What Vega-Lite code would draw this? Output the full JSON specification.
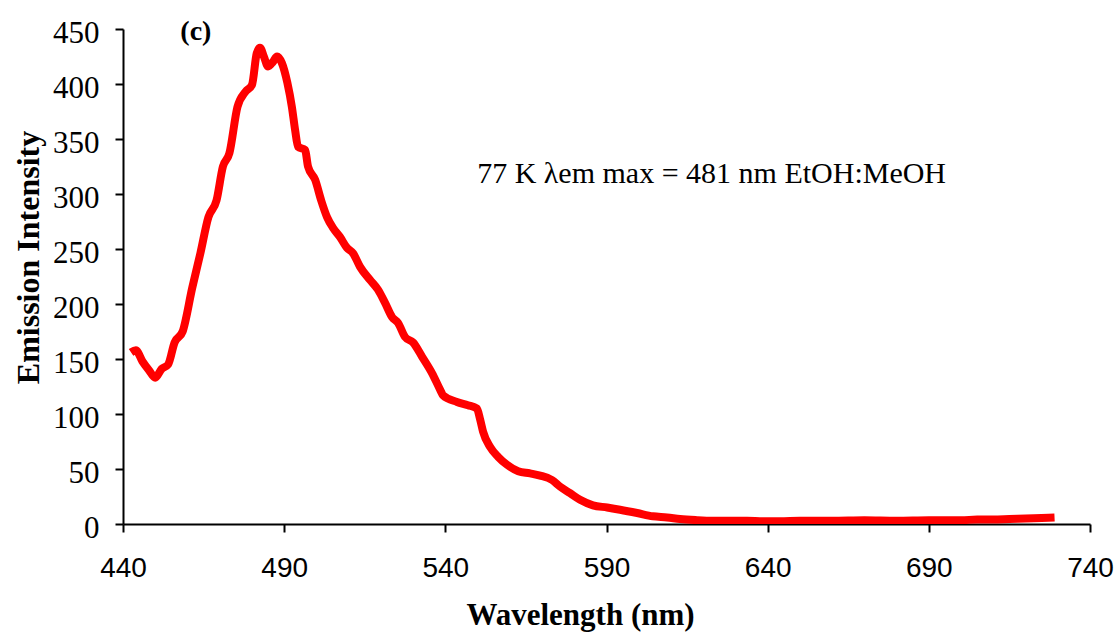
{
  "$schema": "https://vega.github.io/schema/vega-lite/v6.json",
  "autosize": {"type": "none"},
  "padding": {"left": 123, "top": 29, "right": 29, "bottom": 110},
  "width": 967,
  "height": 495,
  "background": "white",
  "config": {
    "view": {"stroke": null},
    "axis": {
      "grid": false,
      "domainColor": "black",
      "domainWidth": 2,
      "tickColor": "black",
      "tickWidth": 2,
      "tickSize": 8,
      "labelColor": "black",
      "titleColor": "black"
    }
  },
  "datasets": {
    "spectrum": [
      {"wavelength": 442.5, "intensity": 156},
      {"wavelength": 444, "intensity": 158},
      {"wavelength": 446, "intensity": 148},
      {"wavelength": 448, "intensity": 140},
      {"wavelength": 450, "intensity": 133},
      {"wavelength": 452, "intensity": 141},
      {"wavelength": 454, "intensity": 145},
      {"wavelength": 456, "intensity": 165},
      {"wavelength": 458.5, "intensity": 175},
      {"wavelength": 461.5, "intensity": 215},
      {"wavelength": 464, "intensity": 246},
      {"wavelength": 466.5, "intensity": 279},
      {"wavelength": 469, "intensity": 294},
      {"wavelength": 471, "intensity": 325},
      {"wavelength": 473, "intensity": 337},
      {"wavelength": 475.5, "intensity": 379},
      {"wavelength": 478, "intensity": 393},
      {"wavelength": 480, "intensity": 399},
      {"wavelength": 481.5, "intensity": 428},
      {"wavelength": 482.5, "intensity": 433},
      {"wavelength": 483.7, "intensity": 425},
      {"wavelength": 485, "intensity": 416},
      {"wavelength": 486.5, "intensity": 420},
      {"wavelength": 487.8, "intensity": 425},
      {"wavelength": 489.3, "intensity": 419},
      {"wavelength": 491, "intensity": 401},
      {"wavelength": 492.4, "intensity": 379},
      {"wavelength": 493.4, "intensity": 358},
      {"wavelength": 494.3, "intensity": 343},
      {"wavelength": 496.5, "intensity": 340},
      {"wavelength": 497.4, "intensity": 325},
      {"wavelength": 499.6, "intensity": 313},
      {"wavelength": 501.5, "intensity": 294},
      {"wavelength": 503.3, "intensity": 279},
      {"wavelength": 505.2, "intensity": 269},
      {"wavelength": 507.3, "intensity": 261},
      {"wavelength": 509.5, "intensity": 251},
      {"wavelength": 511.4, "intensity": 246},
      {"wavelength": 513.5, "intensity": 234},
      {"wavelength": 516.6, "intensity": 222},
      {"wavelength": 519.1, "intensity": 213},
      {"wavelength": 521.3, "intensity": 201},
      {"wavelength": 523.5, "intensity": 188},
      {"wavelength": 525.3, "intensity": 183},
      {"wavelength": 527.5, "intensity": 170},
      {"wavelength": 530, "intensity": 165},
      {"wavelength": 532.8, "intensity": 152},
      {"wavelength": 535.9, "intensity": 137},
      {"wavelength": 538.4, "intensity": 122},
      {"wavelength": 539.3, "intensity": 117},
      {"wavelength": 543.6, "intensity": 111},
      {"wavelength": 547, "intensity": 108},
      {"wavelength": 549.8, "intensity": 105},
      {"wavelength": 550.8, "intensity": 95},
      {"wavelength": 551.7, "intensity": 84},
      {"wavelength": 553.9, "intensity": 70},
      {"wavelength": 556.4, "intensity": 61},
      {"wavelength": 559.1, "intensity": 54},
      {"wavelength": 562.6, "intensity": 48},
      {"wavelength": 566.3, "intensity": 46},
      {"wavelength": 569.4, "intensity": 44},
      {"wavelength": 573.1, "intensity": 40},
      {"wavelength": 575.6, "intensity": 34},
      {"wavelength": 578.7, "intensity": 28},
      {"wavelength": 581.8, "intensity": 22},
      {"wavelength": 585.8, "intensity": 17},
      {"wavelength": 590.2, "intensity": 15},
      {"wavelength": 594.2, "intensity": 13},
      {"wavelength": 599.5, "intensity": 10},
      {"wavelength": 604.4, "intensity": 7},
      {"wavelength": 608.8, "intensity": 6},
      {"wavelength": 612.8, "intensity": 4.5},
      {"wavelength": 618, "intensity": 3.5},
      {"wavelength": 623, "intensity": 3},
      {"wavelength": 628, "intensity": 3},
      {"wavelength": 633.6, "intensity": 3},
      {"wavelength": 638.6, "intensity": 2.5},
      {"wavelength": 643.8, "intensity": 2.5},
      {"wavelength": 650, "intensity": 3},
      {"wavelength": 660, "intensity": 3},
      {"wavelength": 670, "intensity": 3.5},
      {"wavelength": 680, "intensity": 3},
      {"wavelength": 690, "intensity": 3.5},
      {"wavelength": 700, "intensity": 3.5},
      {"wavelength": 705, "intensity": 4},
      {"wavelength": 710, "intensity": 4},
      {"wavelength": 715, "intensity": 4.5},
      {"wavelength": 720, "intensity": 5},
      {"wavelength": 725, "intensity": 5.5},
      {"wavelength": 729, "intensity": 6}
    ],
    "panel": [
      {"wavelength": 462.6, "intensity": 440, "label": "(c)"}
    ],
    "note": [
      {"wavelength": 622.6, "intensity": 310, "label": "77 K λem max = 481 nm EtOH:MeOH"}
    ]
  },
  "layer": [
    {
      "data": {"name": "spectrum"},
      "mark": {"type": "line", "color": "#ff0000", "strokeWidth": 8, "strokeJoin": "round", "strokeCap": "butt", "interpolate": "monotone", "clip": true},
      "encoding": {
        "x": {
          "field": "wavelength",
          "type": "quantitative",
          "scale": {"domain": [440, 740], "nice": false, "zero": false},
          "axis": {
            "values": [440, 490, 540, 590, 640, 690, 740],
            "title": "Wavelength (nm)",
            "titleFont": "Liberation Serif",
            "titleFontSize": 31,
            "titleFontWeight": "bold",
            "titleX": 457,
            "titleY": 100,
            "titleAlign": "center",
            "titleBaseline": "alphabetic",
            "labelFont": "Liberation Sans",
            "labelFontSize": 28,
            "labelPadding": 22,
            "labelFlush": false
          }
        },
        "y": {
          "field": "intensity",
          "type": "quantitative",
          "scale": {"domain": [0, 450], "nice": false},
          "axis": {
            "values": [0, 50, 100, 150, 200, 250, 300, 350, 400, 450],
            "title": "Emission Intensity",
            "titleFont": "Liberation Serif",
            "titleFontSize": 32,
            "titleFontWeight": "bold",
            "titleAngle": -90,
            "titleX": -85,
            "titleY": 228,
            "titleAlign": "center",
            "titleBaseline": "alphabetic",
            "labelFont": "Liberation Serif",
            "labelFontSize": 31,
            "labelPadding": 16,
            "labelOffset": 4,
            "labelFlush": false
          }
        }
      }
    },
    {
      "data": {"name": "panel"},
      "mark": {"type": "text", "font": "Liberation Serif", "fontSize": 28, "fontWeight": "bold", "align": "center", "baseline": "alphabetic", "color": "black"},
      "encoding": {
        "x": {"field": "wavelength", "type": "quantitative"},
        "y": {"field": "intensity", "type": "quantitative"},
        "text": {"field": "label"}
      }
    },
    {
      "data": {"name": "note"},
      "mark": {"type": "text", "font": "Liberation Serif", "fontSize": 30, "align": "center", "baseline": "alphabetic", "color": "black"},
      "encoding": {
        "x": {"field": "wavelength", "type": "quantitative"},
        "y": {"field": "intensity", "type": "quantitative"},
        "text": {"field": "label"}
      }
    }
  ]
}
